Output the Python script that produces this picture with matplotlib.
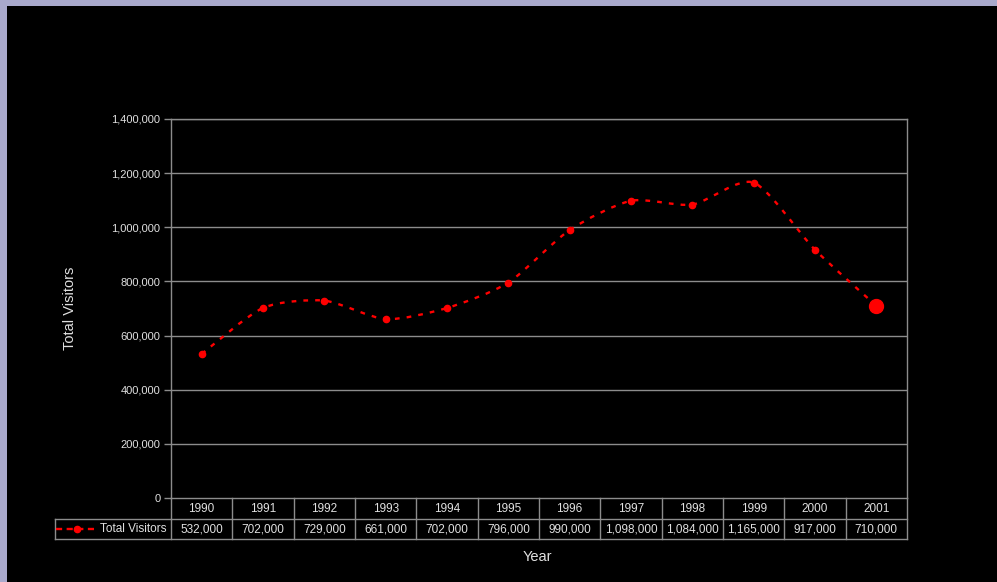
import matplotlib
matplotlib.use("Agg")
import matplotlib.pyplot as plt
from matplotlib.path import Path
from matplotlib.patches import PathPatch, Rectangle
from matplotlib.lines import Line2D
import numpy as np

plt.rcParams['font.family'] = ['Liberation Sans', 'DejaVu Sans']

years = ["1990", "1991", "1992", "1993", "1994", "1995", "1996", "1997", "1998", "1999", "2000", "2001"]
visitors = [532000, 702000, 729000, 661000, 702000, 796000, 990000, 1098000, 1084000, 1165000, 917000, 710000]
value_labels = ["532,000", "702,000", "729,000", "661,000", "702,000", "796,000", "990,000",
                "1,098,000", "1,084,000", "1,165,000", "917,000", "710,000"]
yticks = [0, 200000, 400000, 600000, 800000, 1000000, 1200000, 1400000]
ytick_labels = ["0", "200,000", "400,000", "600,000", "800,000", "1,000,000", "1,200,000", "1,400,000"]
series_name = "Total Visitors"

W, H = 997, 582
fig = plt.figure(figsize=(W / 100, H / 100), dpi=100)
fig.patch.set_facecolor('#A9A9CC')
bg = Rectangle((7 / W, 0), 1, 1 - 6 / H, transform=fig.transFigure,
               facecolor='black', edgecolor='none', zorder=-10)
fig.add_artist(bg)

L, R, T, B = 171, 907, 119, 498
ax = fig.add_axes([L / W, 1 - B / H, (R - L) / W, (B - T) / H])
ax.set_facecolor('black')
n = len(years)
x = np.arange(n)
ax.set_xlim(-0.5, n - 0.5)
ax.set_ylim(0, 1400000)
grid_c = '#8C8C8C'
text_c = '#E0E0E0'
fs = 8.5
ax.set_yticks(yticks)
ax.set_yticklabels(ytick_labels, fontsize=8, color=text_c)
ax.tick_params(axis='y', length=5, width=1, color=grid_c, pad=2.5)
ax.set_xticks([])
for s in ax.spines.values():
    s.set_color(grid_c)
    s.set_linewidth(1)
for yv in yticks[1:]:
    ax.axhline(yv, color=grid_c, lw=1, zorder=1)

# smoothed line (Bezier through data points)
y = np.array(visitors, dtype=float)
k = 1 / 8
verts = [(x[0], y[0])]
codes = [Path.MOVETO]
for i in range(n - 1):
    p0 = np.array([x[i - 1], y[i - 1]]) if i > 0 else np.array([x[i], y[i]])
    p1 = np.array([x[i], y[i]])
    p2 = np.array([x[i + 1], y[i + 1]])
    p3 = np.array([x[i + 2], y[i + 2]]) if i + 2 < n else p2
    c1 = p1 + (p2 - p0) * k
    c2 = p2 - (p3 - p1) * k
    verts += [tuple(c1), tuple(c2), tuple(p2)]
    codes += [Path.CURVE4] * 3
ax.add_patch(PathPatch(Path(verts, codes), facecolor='none', edgecolor='#FF0000',
                       lw=1.7, linestyle=(0, (2, 3)), capstyle='butt', zorder=3))
ax.plot(x[:-1], y[:-1], 'o', color='#FF0000', ms=4.5, zorder=4)
ax.plot(x[-1:], y[-1:], 'o', color='#FF0000', ms=10, zorder=4)

ax.set_ylabel("Total Visitors", fontsize=10.5, color=text_c)
ax.yaxis.set_label_coords(-(L - 77) / (R - L), 0.5)

# data table beneath
def fx(px):
    return px / W

def fy(py):
    return 1 - py / H

line_kw = dict(color=grid_c, lw=1, transform=fig.transFigure)
r0, r1, r2 = B, 519, 539
colw = (R - L) / n
fig.add_artist(Line2D([fx(L), fx(R)], [fy(r1), fy(r1)], **line_kw))
fig.add_artist(Line2D([fx(55), fx(R)], [fy(r2), fy(r2)], **line_kw))
fig.add_artist(Line2D([fx(55), fx(L)], [fy(r1), fy(r1)], **line_kw))
fig.add_artist(Line2D([fx(55), fx(55)], [fy(r1), fy(r2)], **line_kw))
for i in range(n + 1):
    xp = L + i * colw
    fig.add_artist(Line2D([fx(xp), fx(xp)], [fy(r0), fy(r2)], **line_kw))
for i in range(n):
    xc = L + (i + 0.5) * colw
    fig.text(fx(xc), fy((r0 + r1) / 2), years[i], ha='center', va='center', fontsize=fs, color=text_c)
    fig.text(fx(xc), fy((r1 + r2) / 2), value_labels[i], ha='center', va='center', fontsize=fs, color=text_c)
# legend key
ym = fy((r1 + r2) / 2)
fig.add_artist(Line2D([fx(56), fx(97)], [ym, ym], color='#FF0000', lw=1.7,
                      linestyle=(0, (2.6, 1.9)), transform=fig.transFigure))
fig.add_artist(Line2D([fx(77)], [ym], marker='o', color='#FF0000', ms=4.5,
                      transform=fig.transFigure))
fig.text(fx(100), ym, series_name, ha='left', va='center', fontsize=fs, color=text_c)

fig.text(fx(537), fy(557), "Year", ha='center', va='center', fontsize=10.5, color=text_c)

fig.savefig("out.png", dpi=100, facecolor=fig.get_facecolor())
